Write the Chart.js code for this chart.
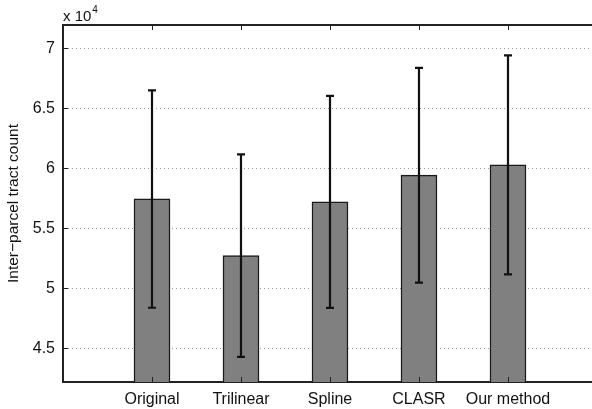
<!DOCTYPE html>
<html>
<head>
<meta charset="utf-8">
<script src="https://cdn.jsdelivr.net/npm/chart.js@4"></script>
<style>
  html, body { margin: 0; padding: 0; background: #fff; overflow: hidden; }
  #wrap { width: 592px; height: 409px; }
</style>
</head>
<body>
<div id="wrap"><canvas id="c" width="592" height="409"></canvas></div>
<script>
const categories = ['Original', 'Trilinear', 'Spline', 'CLASR', 'Our method'];
const means      = [57450, 52720, 57210, 59440, 60300];
const errLow     = [48380, 44280, 48370, 50470, 51170];
const errHigh    = [66500, 61170, 66040, 68380, 69420];
const yTicks     = [45000, 50000, 55000, 60000, 65000, 70000];
const yTitle     = 'Inter\u2212parcel tract count';
const multiplierBase = 'x 10';
const multiplierExp = '4';

const FONT = '"Liberation Sans", Arial, Helvetica, sans-serif';

const barData = categories.map((c, i) => ({ x: i + 1, y: means[i] }));

const decorPlugin = {
  id: 'decor',
  afterDatasetsDraw(chart) {
    const ctx = chart.ctx;
    const xs = chart.scales.x, ys = chart.scales.y;
    const area = chart.chartArea;
    ctx.save();
    // error bars
    ctx.strokeStyle = '#111';
    ctx.lineWidth = 2.2;
    categories.forEach((c, i) => {
      const px = xs.getPixelForValue(i + 1);
      const yl = ys.getPixelForValue(errLow[i]);
      const yh = ys.getPixelForValue(errHigh[i]);
      ctx.beginPath();
      ctx.moveTo(px, yl); ctx.lineTo(px, yh);
      ctx.moveTo(px - 4, yl); ctx.lineTo(px + 4, yl);
      ctx.moveTo(px - 4, yh); ctx.lineTo(px + 4, yh);
      ctx.stroke();
    });
    // top border
    ctx.strokeStyle = '#222';
    ctx.lineWidth = 2;
    ctx.beginPath();
    ctx.moveTo(area.left - 1, area.top);
    ctx.lineTo(chart.width, area.top);
    ctx.stroke();
    // inward ticks
    ctx.lineWidth = 1;
    ctx.beginPath();
    categories.forEach((c, i) => {
      const px = Math.round(xs.getPixelForValue(i + 1)) + 0.5;
      ctx.moveTo(px, area.top); ctx.lineTo(px, area.top + 5);
      ctx.moveTo(px, area.bottom); ctx.lineTo(px, area.bottom - 5);
    });
    yTicks.forEach(v => {
      const py = Math.round(ys.getPixelForValue(v)) + 0.5;
      ctx.moveTo(area.left, py); ctx.lineTo(area.left + 5, py);
    });
    ctx.stroke();
    // multiplier label
    ctx.fillStyle = '#111';
    ctx.textBaseline = 'alphabetic';
    ctx.textAlign = 'left';
    ctx.font = '15px ' + FONT;
    ctx.fillText(multiplierBase, area.left, 21);
    const w = ctx.measureText(multiplierBase).width;
    ctx.font = '10px ' + FONT;
    ctx.fillText(multiplierExp, area.left + w + 1, 13);
    ctx.restore();
  }
};

new Chart(document.getElementById('c'), {
  type: 'bar',
  data: {
    datasets: [{
      data: barData,
      backgroundColor: '#808080',
      borderColor: '#1a1a1a',
      borderWidth: 1.5,
      borderSkipped: false,
      barThickness: 36
    }]
  },
  options: {
    responsive: false,
    animation: false,
    devicePixelRatio: 1,
    layout: { padding: { top: 25, left: 0, right: 0, bottom: 0 } },
    plugins: { legend: { display: false }, tooltip: { enabled: false } },
    scales: {
      x: {
        type: 'linear',
        offset: false,
        min: 0,
        max: 5.944,
        afterBuildTicks: s => { s.ticks = categories.map((c, i) => ({ value: i + 1 })); },
        afterFit: s => { s.height = 27; },
        ticks: {
          callback: v => categories[v - 1] || '',
          color: '#111',
          font: { family: FONT, size: 16 },
          padding: 8,
          maxRotation: 0,
          autoSkip: false
        },
        grid: { display: false, drawTicks: false, offset: false },
        border: { display: true, color: '#222', width: 2 }
      },
      y: {
        min: 42190,
        max: 71950,
        afterBuildTicks: s => { s.ticks = yTicks.map(v => ({ value: v })); },
        afterFit: s => { s.width = 63; },
        ticks: {
          callback: v => String(v / 10000),
          color: '#111',
          font: { family: FONT, size: 16 },
          padding: 8
        },
        grid: {
          drawTicks: false,
          color: '#9a9a9a',
          lineWidth: 1
        },
        border: { display: true, color: '#222', width: 2, dash: [1, 3] },
        title: {
          display: true,
          text: yTitle,
          color: '#111',
          font: { family: FONT, size: 15.5 },
          padding: { top: 4, bottom: 0 }
        }
      }
    }
  },
  plugins: [decorPlugin]
});
</script>
</body>
</html>
